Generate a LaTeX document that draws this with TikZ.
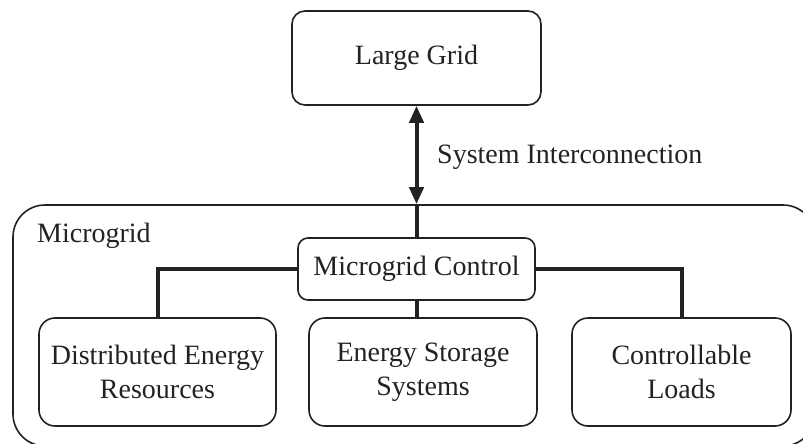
\documentclass[tikz,border=0pt]{standalone}
\usepackage{fontspec}
\setmainfont{Liberation Serif}
\usetikzlibrary{arrows.meta}
\definecolor{ink}{HTML}{222222}
\begin{document}
\begin{tikzpicture}[x=1pt,y=-1pt,
  font=\fontsize{28}{34}\selectfont,
  box/.style={draw=ink, line width=1.6pt, rounded corners=13pt, align=center,
    text=ink, inner sep=0pt},
  link/.style={draw=ink, line width=4pt},
  txt/.style={text=ink, inner sep=0pt}]
  \useasboundingbox (0,0) rectangle (803,444);

  % Outer microgrid frame (runs off the right and bottom edges)
  \node[box, rounded corners=32pt, minimum width=802pt, minimum height=241pt]
    (mg) at (414,325.5) {};
  \node[txt, anchor=base west] (mglabel) at (37,242) {Microgrid};

  % Upstream grid
  \node[box, minimum width=249pt, minimum height=94pt] (grid) at (416.5,58) {Large Grid};

  % Central controller
  \node[box, rounded corners=10pt, minimum width=237pt, minimum height=62pt, fill=white]
    (ctrl) at (416.5,269) {Microgrid Control};

  % Controlled units
  \node[box, rounded corners=16pt, minimum width=237pt, minimum height=108pt]
    (der) at (157.5,372) {Distributed Energy\\Resources};
  \node[box, rounded corners=16pt, minimum width=228pt, minimum height=108pt]
    (ess) at (423,372) {Energy Storage\\Systems};
  \node[box, rounded corners=16pt, minimum width=219pt, minimum height=108pt]
    (cl) at (681.5,372) {Controllable\\Loads};

  % Interconnection between grid and microgrid
  \coordinate (pcc) at (grid.south |- mg.north);
  \draw[link, {Triangle[length=17pt,width=14pt]}-{Triangle[length=17pt,width=14pt]}]
    (grid.south) -- (pcc);
  \draw[link] (pcc) -- (ctrl.north);
  \node[txt, anchor=base west] (ic) at (437,163) {System Interconnection};

  % Control links
  \draw[link] (ctrl.west) -| (der.north);
  \draw[link] (ctrl.east) -| (cl.north);
  \draw[link] (ctrl.south) -- (ctrl.south |- ess.north);
\end{tikzpicture}
\end{document}
